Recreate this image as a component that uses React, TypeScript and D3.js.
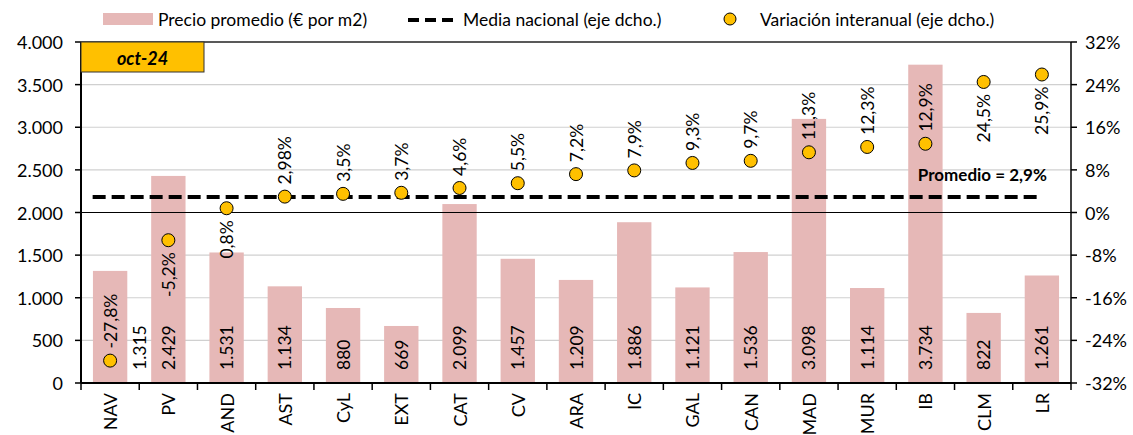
import React from "react";
import * as d3 from "d3";

const categories = ["NAV", "PV", "AND", "AST", "CyL", "EXT", "CAT", "CV", "ARA", "IC", "GAL", "CAN", "MAD", "MUR", "IB", "CLM", "LR"];
const prices = [1315, 2429, 1531, 1134, 880, 669, 2099, 1457, 1209, 1886, 1121, 1536, 3098, 1114, 3734, 822, 1261];
const priceLabels = ["1.315", "2.429", "1.531", "1.134", "880", "669", "2.099", "1.457", "1.209", "1.886", "1.121", "1.536", "3.098", "1.114", "3.734", "822", "1.261"];
const variation = [-27.8, -5.2, 0.8, 2.98, 3.5, 3.7, 4.6, 5.5, 7.2, 7.9, 9.3, 9.7, 11.3, 12.3, 12.9, 24.5, 25.9];
const variationLabels = ["-27,8%", "-5,2%", "0,8%", "2,98%", "3,5%", "3,7%", "4,6%", "5,5%", "7,2%", "7,9%", "9,3%", "9,7%", "11,3%", "12,3%", "12,9%", "24,5%", "25,9%"];
const labelsBelow = ["PV", "AND", "CLM", "LR"];
const nationalMean = 2.9;
const leftTicks = [0, 500, 1000, 1500, 2000, 2500, 3000, 3500, 4000];
const leftTickLabels = ["0", "500", "1.000", "1.500", "2.000", "2.500", "3.000", "3.500", "4.000"];
const rightTicks = [-32, -24, -16, -8, 0, 8, 16, 24, 32];
const rightTickLabels = ["-32%", "-24%", "-16%", "-8%", "0%", "8%", "16%", "24%", "32%"];

const FONT = "Lato, 'Open Sans', sans-serif";
const BAR = "#E6B8B7";
const DOT = "#FFC000";

export default function App() {
  const W = 1133, H = 435;
  const left = 81, right = 1071, top = 42, bottom = 383;
  const x = d3.scaleBand<string>().domain(categories).range([left, right]).paddingInner(0.41).paddingOuter(0.205);
  const xb = d3.scaleBand<string>().domain(categories).range([left, right]);
  const yL = d3.scaleLinear().domain([0, 4000]).range([bottom, top]);
  const yR = d3.scaleLinear().domain([-32, 32]).range([bottom, top]);
  const bw = xb.bandwidth();
  const cx = (c: string) => (xb(c) as number) + bw / 2;
  const meanY = yR(nationalMean);
  const fs = 17.5;
  const afs = 18;

  return (
    <svg width={W} height={H} style={{ position: "absolute", left: 0, top: 0, background: "#fff" }} fontFamily={FONT}>
      {leftTicks.slice(1, -1).map((t) => (
        <line key={"g" + t} x1={left} x2={right} y1={yL(t)} y2={yL(t)} stroke="#d0d0d0" strokeWidth={1.2} />
      ))}
      {categories.map((c, i) => (
        <rect key={"b" + c} x={x(c)} width={x.bandwidth()} y={yL(prices[i])} height={bottom - yL(prices[i])} fill={BAR} />
      ))}
      <line x1={left} x2={right} y1={yR(0)} y2={yR(0)} stroke="#000" strokeWidth={1} />
      <line x1={cx(categories[0]) - bw * 0.3} x2={cx(categories[categories.length - 1])} y1={meanY} y2={meanY}
        stroke="#000" strokeWidth={4} strokeDasharray="13 6" />
      <text x={cx(categories[categories.length - 1]) + 5} y={meanY - 16} textAnchor="end" fontSize={17} fontWeight="bold" fill="#000">
        Promedio = 2,9%
      </text>
      {categories.map((c, i) => {
        const px = cx(c) + (i === 0 ? bw * 0.5 : 0);
        const py = bottom - 13;
        return (
          <text key={"pl" + c} transform={`translate(${px},${py}) rotate(-90)`} textAnchor="start" dominantBaseline="central" fontSize={fs} fill="#000">
            {priceLabels[i]}
          </text>
        );
      })}
      {categories.map((c, i) => (
        <circle key={"d" + c} cx={cx(c)} cy={yR(variation[i])} r={6.5} fill={DOT} stroke="#000" strokeWidth={1} />
      ))}
      {categories.map((c, i) => {
        const below = labelsBelow.includes(c);
        const py = yR(variation[i]) + (below ? 12 : -12);
        return (
          <text key={"vl" + c} transform={`translate(${cx(c)},${py}) rotate(-90)`} textAnchor={below ? "end" : "start"} dominantBaseline="central" fontSize={fs} fill="#000">
            {variationLabels[i]}
          </text>
        );
      })}
      <line x1={left} x2={right} y1={top} y2={top} stroke="#222" strokeWidth={1.5} />
      <line x1={left} x2={right} y1={bottom} y2={bottom} stroke="#000" strokeWidth={2} />
      <line x1={left} x2={left} y1={top} y2={bottom} stroke="#000" strokeWidth={2} />
      <line x1={right} x2={right} y1={top} y2={bottom} stroke="#000" strokeWidth={1.5} />
      {leftTicks.map((t, i) => (
        <g key={"lt" + t}>
          <line x1={left - 6} x2={left} y1={yL(t)} y2={yL(t)} stroke="#000" strokeWidth={1.5} />
          <text x={left - 18} y={yL(t)} textAnchor="end" dominantBaseline="central" fontSize={afs} fill="#000">{leftTickLabels[i]}</text>
        </g>
      ))}
      {rightTicks.map((t, i) => (
        <g key={"rt" + t}>
          <line x1={right} x2={right + 6} y1={yR(t)} y2={yR(t)} stroke="#000" strokeWidth={1.5} />
          <text x={right + 14} y={yR(t)} textAnchor="start" dominantBaseline="central" fontSize={afs} fill="#000">{rightTickLabels[i]}</text>
        </g>
      ))}
      {[...categories.map((c) => xb(c) as number), right].map((p, i) => (
        <line key={"xt" + i} x1={p} x2={p} y1={bottom} y2={bottom + 7} stroke="#000" strokeWidth={1.5} />
      ))}
      {categories.map((c) => (
        <text key={"xl" + c} transform={`translate(${cx(c)},${bottom + 10}) rotate(-90)`} textAnchor="end" dominantBaseline="central" fontSize={afs} fill="#000">{c}</text>
      ))}
      <rect x={left} y={top} width={123} height={30} fill={DOT} stroke="#333" strokeWidth={1} />
      <text x={left + 61.5} y={top + 16} textAnchor="middle" dominantBaseline="central" fontSize={18} fontWeight="bold" fontStyle="italic" fill="#000">oct-24</text>
      <rect x={103} y={13} width={50} height={12} fill={BAR} />
      <text x={158} y={19} dominantBaseline="central" fontSize={17.5} fill="#000">Precio promedio (€ por m2)</text>
      <line x1={408} x2={453} y1={20} y2={20} stroke="#000" strokeWidth={4} strokeDasharray="11 6" />
      <text x={463} y={19} dominantBaseline="central" fontSize={17.5} fill="#000">Media nacional (eje dcho.)</text>
      <circle cx={730} cy={19} r={6} fill={DOT} stroke="#000" strokeWidth={1} />
      <text x={760} y={19} dominantBaseline="central" fontSize={17.5} fill="#000">Variación interanual (eje dcho.)</text>
    </svg>
  );
}
